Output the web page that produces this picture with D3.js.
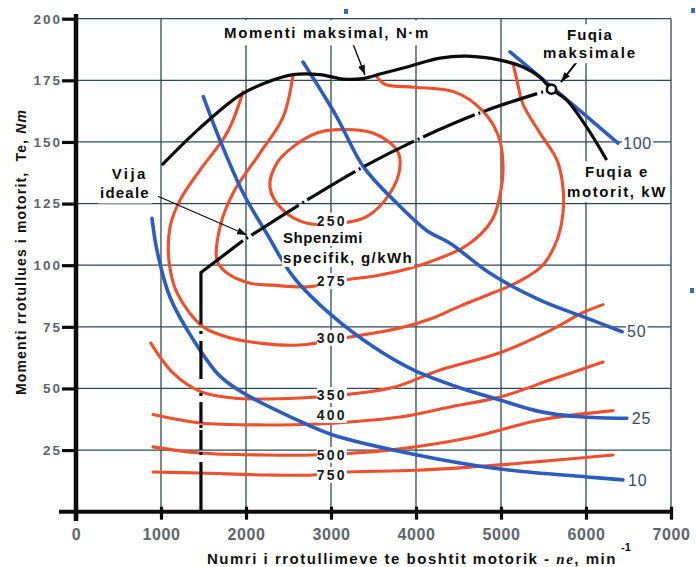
<!DOCTYPE html>
<html lang="sq">
<head>
<meta charset="utf-8">
<title>Karakteristika e motorit</title>
<script src="https://cdn.jsdelivr.net/npm/d3@7/dist/d3.min.js"></script>
<style>
  html, body { margin: 0; padding: 0; background: #fff; }
  svg { display: block; font-family: "Liberation Sans", Arial, sans-serif; }
</style>
</head>
<body>
<svg id="chart" width="696" height="567"></svg>
<script>
// ---- Axis ticks ----
const speedTicks = [0, 1000, 2000, 3000, 4000, 5000, 6000, 7000];   // min^-1
const torqueTicks = [25, 50, 75, 100, 125, 150, 175, 200];         // N·m

// ---- Full-load torque curve [rpm, N·m], continuing past the max-power point ----
const maxTorque = [
  [1010, 140.6], [1459, 155.7], [1929, 169], [2247, 174.2], [2553, 177.3],
  [2870, 177.3], [3141, 175.5], [3376, 175.7], [3612, 177.9], [3894, 180.4],
  [4282, 184], [4600, 184.8], [4988, 183.2], [5259, 180.4], [5450, 176.5],
  [5594, 171.4], [5773, 167], [6008, 156], [6243, 142.7]
];
const maxPowerPoint = [5594, 171.4];

// ---- Ideal operating line [rpm, N·m] ----
const idealLine = [
  [1470, 0], [1470, 76], [1470, 97], [1965, 110], [2718, 126.4],
  [3376, 139.8], [4082, 152], [4835, 162.9], [5594, 171.4]
];

// ---- Constant engine power curves, kW ----
const powerLevels = ["10", "25", "50", "100"];
const power10 = [
  [894, 119], [953, 106], [1106, 87], [1376, 70], [1694, 55], [2012, 47.3],
  [2553, 38], [3024, 31.1], [4012, 23], [4988, 17.3], [6012, 14.1], [6435, 12.9]
];
const power25 = [
  [1498, 168.4], [1694, 150.7], [1968, 129.2], [2243, 112.9], [2557, 95.3],
  [3027, 79.1], [3498, 66.9], [3969, 57.5], [4478, 50.7], [4988, 45.3],
  [5459, 40.6], [5929, 38.5], [6480, 37.9]
];
const power50 = [
  [2671, 182.4], [3067, 160.2], [3380, 140], [3750, 126], [4129, 114],
  [4400, 108.9], [4871, 96.7], [5459, 85.8], [6012, 78.5], [6424, 73]
];
const power100 = [[5106, 186.5], [5541, 174], [6376, 149.5]];

// ---- Specific fuel consumption iso-lines, g/kWh ----
const bsfcLevels = ["250", "275", "300", "350", "400", "500", "750"];
const bsfc250 = [
  [2282, 131.6], [2365, 141.5], [2553, 148], [2835, 153.6], [3071, 155],
  [3494, 153.6], [3776, 146.7], [3812, 140], [3694, 129.2], [3420, 119.7],
  [3106, 117], [2718, 117], [2435, 122.3]
];
const bsfc275 = [
  [2553, 177.1], [2435, 160], [2165, 145.5], [1847, 129.2], [1694, 115.5],
  [1659, 102], [1776, 96.8], [2047, 92.7], [2318, 91.9], [2718, 91.2],
  [3165, 94], [3576, 96], [4047, 100], [4600, 108.1], [4894, 118.3],
  [4988, 128.4], [5024, 140.7], [4965, 152.8], [4776, 162.9], [4459, 170.2],
  [3988, 172.2], [3640, 173.3], [3541, 176.4]
];
const bsfc300 = [
  [1965, 170.3], [1776, 153.6], [1459, 138.6], [1224, 126.4], [1106, 115.5],
  [1100, 100], [1200, 88], [1494, 75], [1776, 70.9], [2165, 68.4], [2635, 67.6],
  [3224, 70.9], [3812, 74.5], [4200, 78.6], [4518, 83.4], [4870, 88.3],
  [5224, 93.6], [5494, 100.1], [5659, 110.2], [5729, 121.1], [5729, 131.6],
  [5659, 142.6], [5459, 153.6], [5259, 165.3], [5188, 174.9], [5141, 182]
];
const bsfc350 = [
  [880, 68.4], [1141, 56.3], [1459, 48.8], [1847, 46.1], [2635, 46.1],
  [3224, 47.7], [3750, 50.6], [4282, 57.5], [4988, 64.5], [5576, 73.5],
  [5965, 80.8], [6200, 84]
];
const bsfc400 = [
  [906, 39.4], [1459, 36], [2247, 35.2], [2835, 35.6], [3224, 36.4],
  [3812, 38.4], [4400, 42.5], [4988, 46.5], [5576, 53.4], [6200, 60.7]
];
const bsfc500 = [
  [906, 26.3], [1459, 23.8], [2247, 23], [2788, 23], [3200, 23.6],
  [3812, 25.5], [4670, 30.3], [5459, 37.2], [6318, 41]
];
const bsfc750 = [
  [906, 16.1], [1459, 15.7], [2247, 14.9], [2788, 14.9], [3106, 16],
  [4012, 16.8], [4988, 19], [6318, 23]
];
// where each iso-line carries its value
const bsfcLabelSpeed = 3010;
const bsfcLabelTorque = [118, 93.5, 70.5, 47.3, 39.2, 23, 14.9];

// ---- Colours ----
const RED = "#ee4f2d", BLUE = "#2c5cc0", INK = "#0b0b0b", GRID = "#2d4b57", TICK = "#5d646c";

const svg = d3.select("#chart");
const x = d3.scaleLinear().domain([0, 7000]).range([76, 671]);
const y = d3.scaleLinear().domain([0, 200]).range([511.7, 18.7]);

const smooth = d3.line().x(d => x(d[0])).y(d => y(d[1])).curve(d3.curveCatmullRom.alpha(0.5));
const loop = d3.line().x(d => x(d[0])).y(d => y(d[1])).curve(d3.curveCatmullRomClosed.alpha(0.5));
const straight = d3.line().x(d => x(d[0])).y(d => y(d[1]));

// arrowhead
svg.append("defs").append("marker")
  .attr("id", "head").attr("viewBox", "0 0 10 7").attr("refX", 10).attr("refY", 3.5)
  .attr("markerWidth", 10).attr("markerHeight", 7)
  .attr("markerUnits", "userSpaceOnUse").attr("orient", "auto")
  .append("path").attr("d", "M0,0L10,3.5L0,7Z").attr("fill", INK);

// ---- Grid ----
const grid = svg.append("g").attr("stroke", GRID).attr("stroke-width", 1.3);
grid.selectAll("line.gv").data(speedTicks.slice(1)).join("line").attr("class", "gv")
  .attr("x1", d => x(d)).attr("x2", d => x(d)).attr("y1", y(0)).attr("y2", y(200));
grid.selectAll("line.gh").data(torqueTicks).join("line").attr("class", "gh")
  .attr("x1", x(0)).attr("x2", x(7000)).attr("y1", d => y(d)).attr("y2", d => y(d));

// ---- Fuel consumption iso-lines ----
const bsfcCurves = [bsfc250, bsfc275, bsfc300, bsfc350, bsfc400, bsfc500, bsfc750];
svg.append("g").selectAll("path").data(bsfcCurves).join("path")
  .attr("d", (d, i) => i === 0 ? loop(d) : smooth(d))
  .attr("fill", "none").attr("stroke", RED).attr("stroke-width", 3.1)
  .attr("stroke-linecap", "round");

// ---- Constant power curves ----
const powerCurves = [power10, power25, power50, power100];
svg.append("g").selectAll("path").data(powerCurves).join("path")
  .attr("d", smooth)
  .attr("fill", "none").attr("stroke", BLUE).attr("stroke-width", 3.6)
  .attr("stroke-linecap", "round");

// ---- Ideal operating line ----
// lower vertical part, drawn downward: broken with a dot where it meets each iso-line
svg.append("path").attr("d", straight(idealLine.slice(0, 2).reverse()))
  .attr("fill", "none").attr("stroke", INK).attr("stroke-width", 3.2)
  .attr("stroke-dasharray", "0 6.6 3 7 38 14 3 6 21 2 3 2 20 2 3 7 60 0");
svg.append("path").attr("d", straight(idealLine.slice(1, 4)))
  .attr("fill", "none").attr("stroke", INK).attr("stroke-width", 3.2);
svg.append("path").attr("d", smooth(idealLine.slice(3)))
  .attr("fill", "none").attr("stroke", INK).attr("stroke-width", 3.2)
  .attr("stroke-dasharray", "56 4 2 4").attr("stroke-dashoffset", 56);

// ---- Full-load torque ----
svg.append("path").attr("d", smooth(maxTorque))
  .attr("fill", "none").attr("stroke", INK).attr("stroke-width", 3.2);

// ---- Annotation arrows ----
function arrow(a, b, w) {
  svg.append("line")
    .attr("x1", x(a[0])).attr("y1", y(a[1])).attr("x2", x(b[0])).attr("y2", y(b[1]))
    .attr("stroke", INK).attr("stroke-width", w).attr("marker-end", "url(#head)");
}
arrow([3259, 189.7], [3400, 177.2], 1.4);
arrow([5929, 184.1], [5706, 174.3], 2);
arrow([965, 128], [2012, 112.3], 1.1);

// max power point
svg.append("circle")
  .attr("cx", x(maxPowerPoint[0])).attr("cy", y(maxPowerPoint[1])).attr("r", 4.6)
  .attr("fill", "#fff").attr("stroke", INK).attr("stroke-width", 2.6);

// ---- Text helpers ----
function fitWidth(t, w) {
  const n = t.node();
  const len = n.getComputedTextLength();
  t.attr("letter-spacing", ((w - len) / n.textContent.length).toFixed(2));
}
const labels = svg.append("g");
function addLabel(txt, px, py, o = {}) {
  const g = labels.append("g");
  const t = g.append("text")
    .attr("x", px).attr("y", py).attr("dy", "0.35em")
    .attr("text-anchor", o.anchor || "middle")
    .attr("font-size", o.size || 15)
    .attr("font-weight", o.weight || "bold")
    .attr("fill", o.fill || INK)
    .text(txt);
  if (o.ls !== undefined) t.attr("letter-spacing", o.ls);
  if (o.width) fitWidth(t, o.width);
  if (o.bg !== false) {
    const b = t.node().getBBox();
    const p = o.pad === undefined ? 2 : o.pad;
    g.insert("rect", "text")
      .attr("x", b.x - p).attr("y", b.y - p)
      .attr("width", b.width + 2 * p).attr("height", b.height + 2 * p)
      .attr("fill", "#fff");
  }
  return t;
}

// iso-line values
bsfcLevels.forEach((lv, i) => {
  addLabel(lv, x(bsfcLabelSpeed), y(bsfcLabelTorque[i]), { size: 14, width: 30, pad: 0, fill: "#1a1a1a" });
});

// power values at the curve ends
powerCurves.forEach((c, i) => {
  const end = c[c.length - 1];
  addLabel(powerLevels[i], x(end[0]) + 5, y(end[1]), {
    anchor: "start", size: 16, weight: "normal", ls: 0.8, fill: "#3b4763", pad: 1
  });
});

// explanatory labels
addLabel("Momenti maksimal, N·m", x(2953), y(194.2), { width: 206, pad: 4 });
addLabel("Fuqia", x(6047), y(193.4), { width: 46 });
addLabel("maksimale", x(6047), y(186.1), { width: 94 });
addLabel("Fuqia e", x(6365), y(137.8), { width: 64 });
addLabel("motorit, kW", x(6365), y(129.7), { width: 100 });
addLabel("Vija", x(632), y(137.3), { width: 36 });
addLabel("ideale", x(576), y(129.2), { width: 50 });
addLabel("Shpenzimi", x(2435), y(111.2), { anchor: "start", width: 80, pad: 0 });
addLabel("specifik, g/kWh", x(2435), y(103.1), { anchor: "start", width: 130, pad: 1 });

// ---- Axes ----
const yAxis = svg.append("g").attr("transform", `translate(${x(0)},0)`)
  .call(d3.axisLeft(y).tickValues(torqueTicks).tickSize(14).tickPadding(0).tickFormat(d3.format("d")));
yAxis.attr("font-family", null).attr("font-size", 13.5);
yAxis.select(".domain").remove();
yAxis.selectAll(".tick line").attr("stroke", INK).attr("stroke-width", 3.2);
yAxis.selectAll(".tick text").attr("fill", TICK).attr("font-weight", "bold").attr("letter-spacing", 2);

const xAxis = svg.append("g").attr("transform", `translate(0,${y(0)})`)
  .call(d3.axisBottom(x).tickValues(speedTicks).tickSize(8).tickPadding(9.3).tickFormat(d3.format("d")));
xAxis.attr("font-family", null).attr("font-size", 16);
xAxis.select(".domain").remove();
xAxis.selectAll(".tick line").attr("y1", -5).attr("stroke", INK).attr("stroke-width", 3.2);
xAxis.selectAll(".tick text").attr("fill", TICK).attr("font-weight", "bold").attr("letter-spacing", 0.6);

svg.append("line").attr("x1", x(0)).attr("x2", x(0)).attr("y1", 14).attr("y2", 521)
  .attr("stroke", INK).attr("stroke-width", 4.5);
svg.append("line").attr("x1", 59).attr("x2", 673).attr("y1", y(0)).attr("y2", y(0))
  .attr("stroke", INK).attr("stroke-width", 4);

// ---- Axis titles ----
const yTitle = svg.append("text")
  .attr("transform", "translate(21.5,252) rotate(-90)")
  .attr("text-anchor", "middle").attr("dy", "0.35em")
  .attr("font-size", 14).attr("font-weight", "bold").attr("fill", "#111")
  .style("white-space", "pre");
yTitle.append("tspan").text("Momenti rrotullues i motorit,  Te, ");
yTitle.append("tspan").attr("font-style", "italic").text("Nm");
fitWidth(yTitle, 286);

const xTitle = svg.append("text")
  .attr("x", 207).attr("y", 564)
  .attr("font-size", 15).attr("font-weight", "bold").attr("fill", "#111");
xTitle.append("tspan").text("Numri i rrotullimeve te boshtit motorik - ");
xTitle.append("tspan").attr("font-family", "'Liberation Serif', serif").attr("font-style", "italic").text("ne");
xTitle.append("tspan").text(", min");
fitWidth(xTitle, 410);
svg.append("text").attr("x", 621).attr("y", 551)
  .attr("font-size", 11).attr("font-weight", "bold").attr("fill", "#111").text("-1");

// small blue marks at the sheet edge
svg.append("g").attr("fill", "#3a66c8").selectAll("rect")
  .data([[344, 9], [691, 8], [690, 288]]).join("rect")
  .attr("x", d => d[0]).attr("y", d => d[1]).attr("width", 4).attr("height", 5);
</script>
</body>
</html>
